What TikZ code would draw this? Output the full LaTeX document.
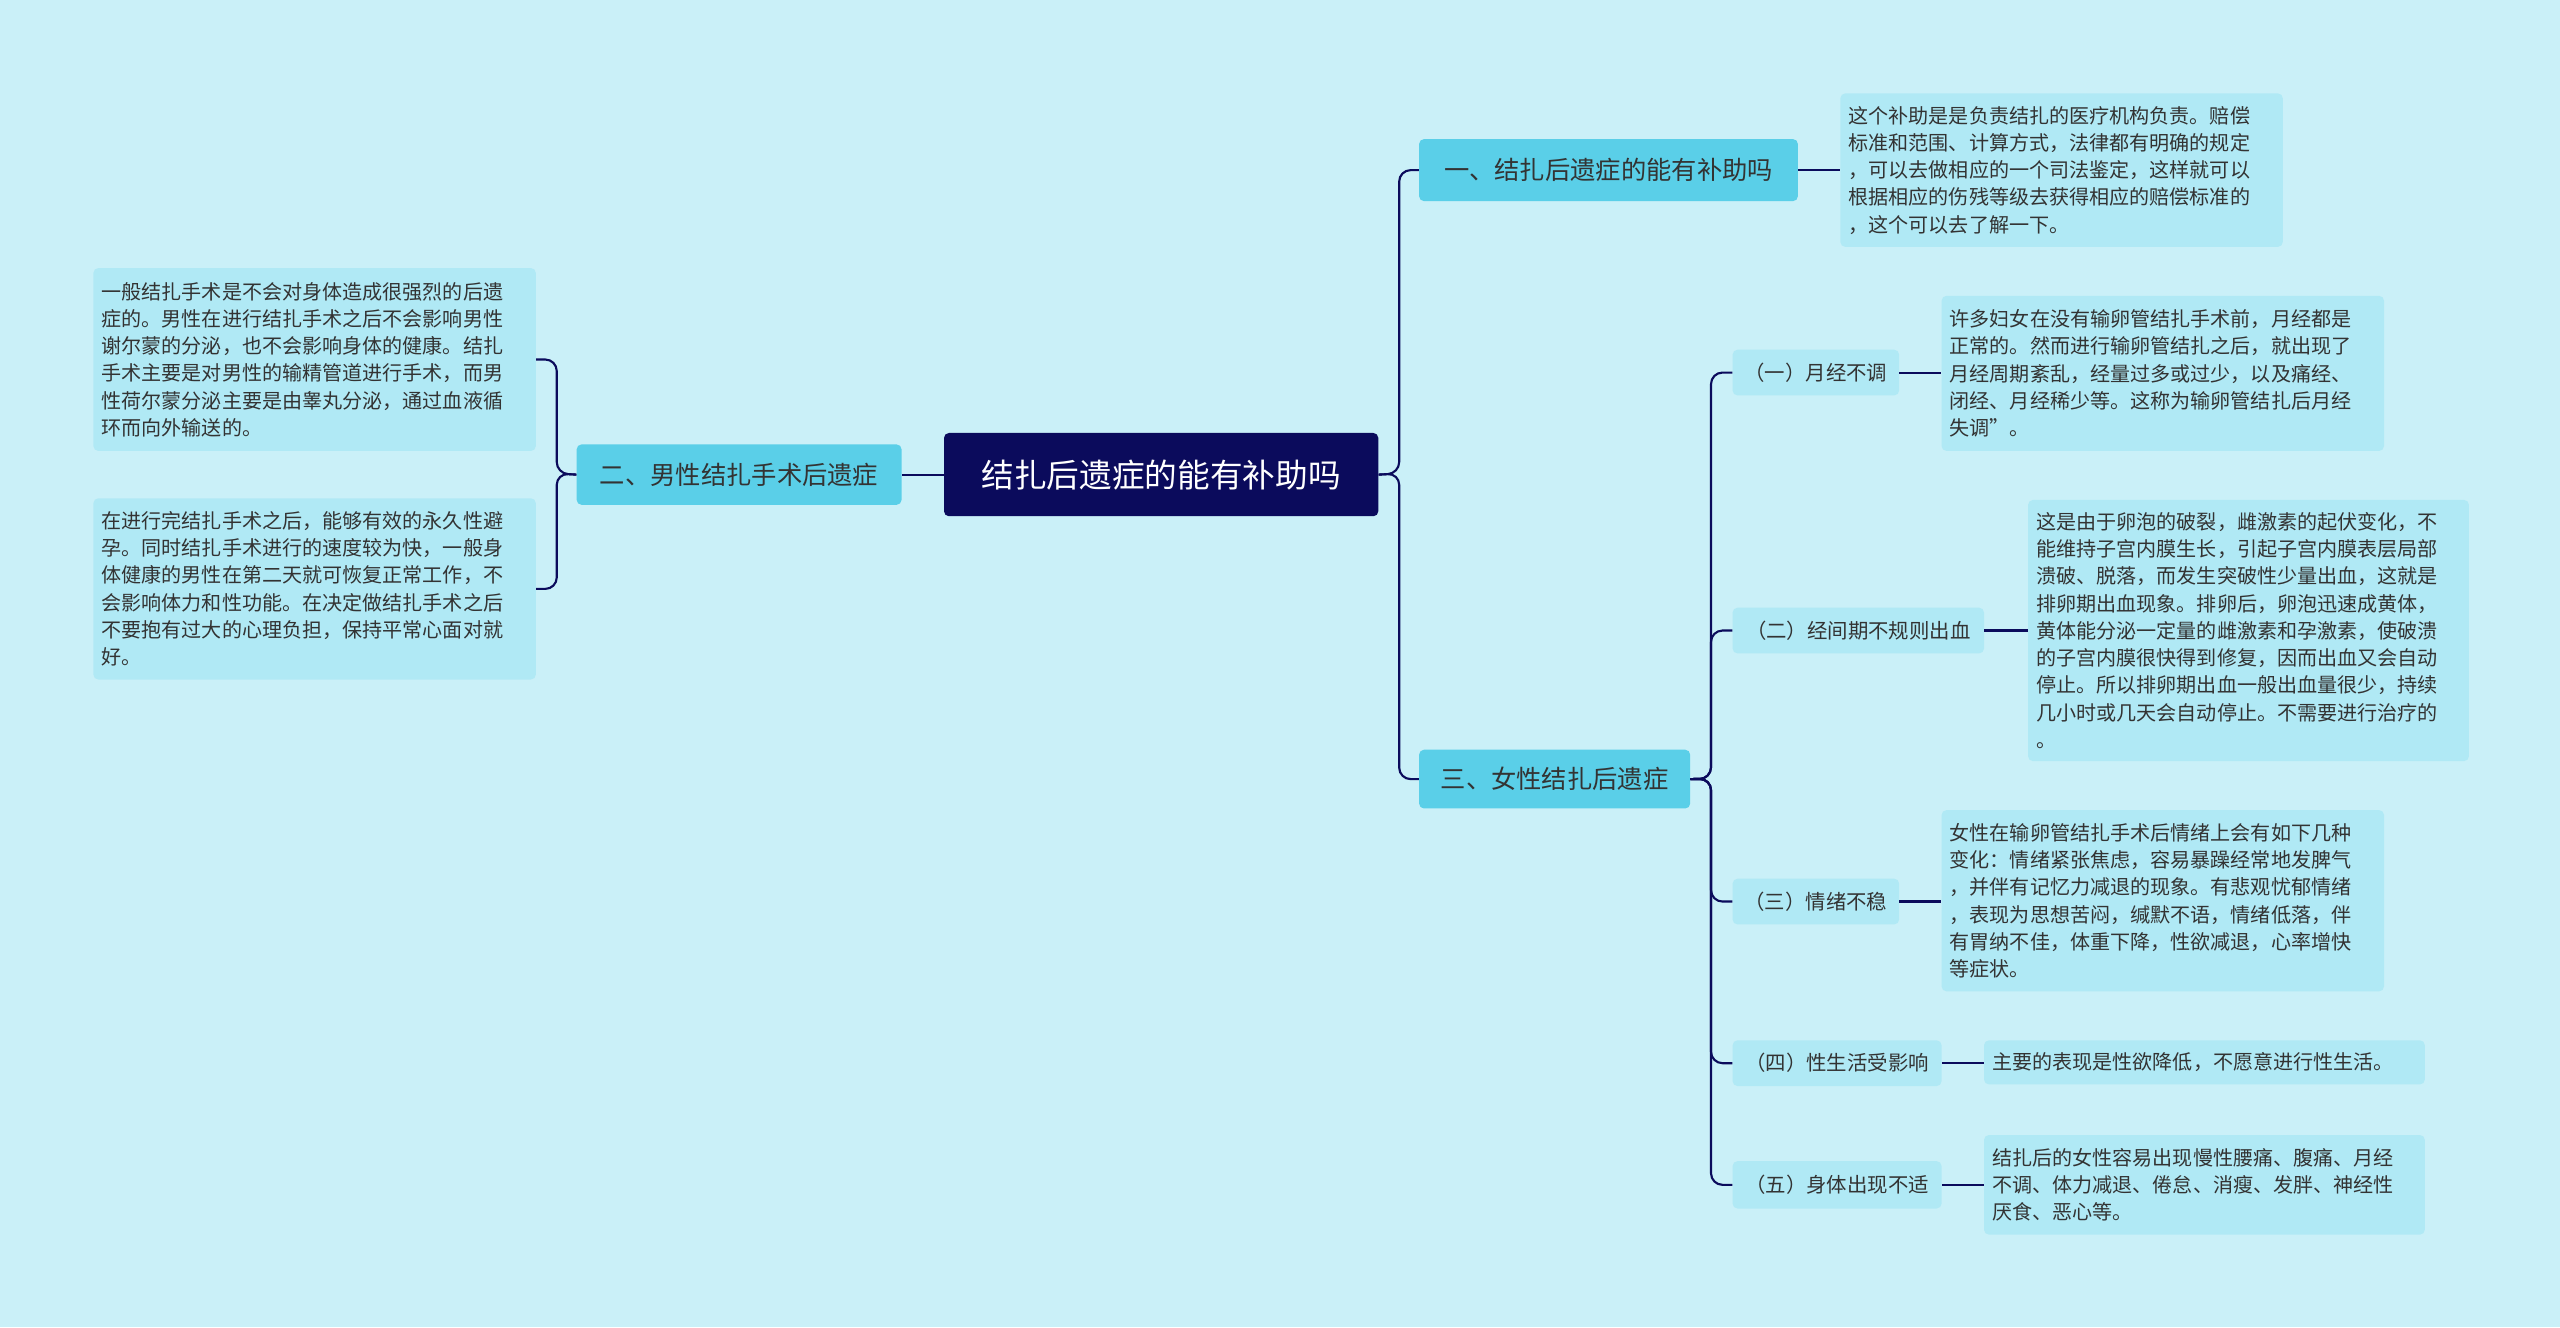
\documentclass[tikz,border=0pt]{standalone}
\usepackage{fontspec}
\setmainfont{Noto Sans CJK SC}
\definecolor{bg}{HTML}{CAF0F8}
\definecolor{navy}{HTML}{0B0B5C}
\definecolor{mid}{HTML}{5ACFE8}
\definecolor{leaf}{HTML}{B0E9F5}
\definecolor{txt}{HTML}{333333}
\begin{document}
\begin{tikzpicture}[x=1pt,y=-1pt,
 box/.style={rounded corners=3pt,inner sep=0pt,anchor=north west},
 root/.style={box,fill=navy,text=white,font=\fontsize{20}{24}\selectfont},
 mainb/.style={box,fill=mid,text=txt,font=\fontsize{15.5}{19}\selectfont},
 subb/.style={box,fill=leaf,text=txt,font=\fontsize{12.5}{15}\selectfont},
 leafb/.style={box,fill=leaf,text=txt,font=\fontsize{12.3}{16.7}\selectfont,align=left,inner xsep=5pt,inner ysep=5pt,text width=261pt},
 con/.style={draw=navy,line width=1.3pt,rounded corners=7pt}]
\fill[bg] (0,0) rectangle (1568,813);
\useasboundingbox (0,0) rectangle (1568,813);
\node[root,minimum width=266,minimum height=51] (r) at (578,265) {结扎后遗症的能有补助吗};
\node[mainb,minimum width=232,minimum height=38] (a1) at (869,85) {一、结扎后遗症的能有补助吗};
\node[mainb,minimum width=199,minimum height=37] (a2) at (353,272) {二、男性结扎手术后遗症};
\node[mainb,minimum width=166,minimum height=36] (a3) at (869,459) {三、女性结扎后遗症};
\node[leafb,minimum height=94] (t1) at (1127,57) {这个补助是是负责结扎的医疗机构负责。赔偿\\标准和范围、计算方式，法律都有明确的规定\\，可以去做相应的一个司法鉴定，这样就可以\\根据相应的伤残等级去获得相应的赔偿标准的\\，这个可以去了解一下。};
\node[leafb,minimum height=112] (l1) at (57,164) {一般结扎手术是不会对身体造成很强烈的后遗\\症的。男性在进行结扎手术之后不会影响男性\\谢尔蒙的分泌，也不会影响身体的健康。结扎\\手术主要是对男性的输精管道进行手术，而男\\性荷尔蒙分泌主要是由睾丸分泌，通过血液循\\环而向外输送的。};
\node[leafb,minimum height=111] (l2) at (57,305) {在进行完结扎手术之后，能够有效的永久性避\\孕。同时结扎手术进行的速度较为快，一般身\\体健康的男性在第二天就可恢复正常工作，不\\会影响体力和性功能。在决定做结扎手术之后\\不要抱有过大的心理负担，保持平常心面对就\\好。};
\node[subb,minimum width=102,minimum height=28] (s1) at (1061,214) {（一）月经不调};
\node[subb,minimum width=154,minimum height=28] (s2) at (1061,372) {（二）经间期不规则出血};
\node[subb,minimum width=102,minimum height=28] (s3) at (1061,538) {（三）情绪不稳};
\node[subb,minimum width=128,minimum height=28] (s4) at (1061,637) {（四）性生活受影响};
\node[subb,minimum width=128,minimum height=29] (s5) at (1061,711) {（五）身体出现不适};
\node[leafb,minimum height=95] (u1) at (1189,181) {许多妇女在没有输卵管结扎手术前，月经都是\\正常的。然而进行输卵管结扎之后，就出现了\\月经周期紊乱，经量过多或过少，以及痛经、\\闭经、月经稀少等。这称为输卵管结扎后月经\\失调”。};
\node[leafb,text width=260pt,minimum height=160] (u2) at (1242,306) {这是由于卵泡的破裂，雌激素的起伏变化，不\\能维持子宫内膜生长，引起子宫内膜表层局部\\溃破、脱落，而发生突破性少量出血，这就是\\排卵期出血现象。排卵后，卵泡迅速成黄体，\\黄体能分泌一定量的雌激素和孕激素，使破溃\\的子宫内膜很快得到修复，因而出血又会自动\\停止。所以排卵期出血一般出血量很少，持续\\几小时或几天会自动停止。不需要进行治疗的\\。};
\node[leafb,minimum height=111] (u3) at (1189,496) {女性在输卵管结扎手术后情绪上会有如下几种\\变化：情绪紧张焦虑，容易暴躁经常地发脾气\\，并伴有记忆力减退的现象。有悲观忧郁情绪\\，表现为思想苦闷，缄默不语，情绪低落，伴\\有胃纳不佳，体重下降，性欲减退，心率增快\\等症状。};
\node[leafb,text width=260pt,minimum height=27] (u4) at (1215,637) {主要的表现是性欲降低，不愿意进行性生活。};
\node[leafb,text width=260pt,minimum height=61] (u5) at (1215,695) {结扎后的女性容易出现慢性腰痛、腹痛、月经\\不调、体力减退、倦怠、消瘦、发胖、神经性\\厌食、恶心等。};
\draw[con] (r.east) -- (857,290) |- (a1.west);
\draw[con] (r.east) -- (857,290) |- (a3.west);
\draw[con] (r.west) -- (a2.east);
\draw[con] (a1.east) -- (t1.west|-a1.east);
\draw[con] (a2.west) -- (341,290) |- (l1.east);
\draw[con] (a2.west) -- (341,290) |- (l2.east);
\foreach \s/\u in {s1/u1,s2/u2,s3/u3,s4/u4,s5/u5}{
 \draw[con] (a3.east) -- (1048,477) |- (\s.west);
 \draw[con] (\s.east) -- (\u.west|-\s.east);
}
\end{tikzpicture}
\end{document}
